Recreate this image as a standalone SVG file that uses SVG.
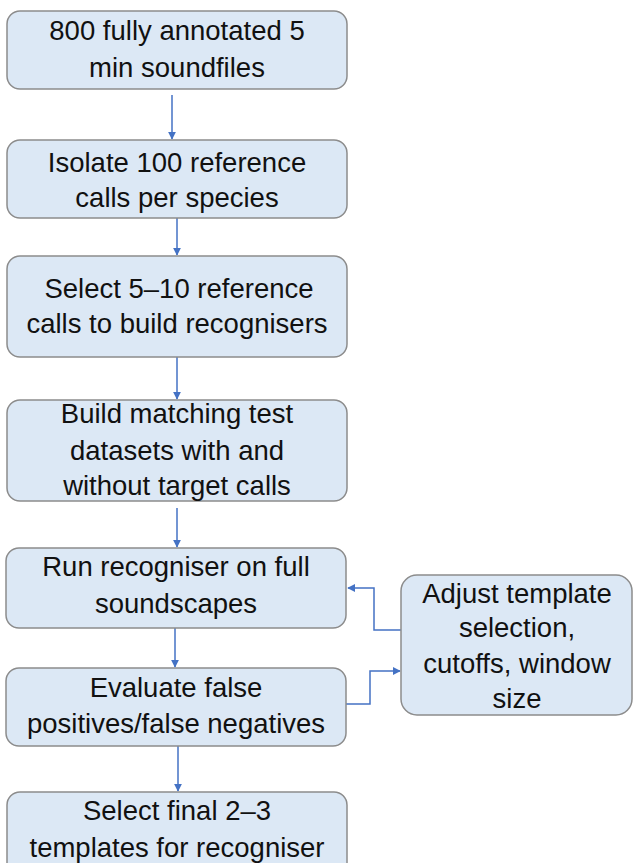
<svg xmlns="http://www.w3.org/2000/svg" width="635" height="863" viewBox="0 0 635 863">
  <style>
    .box { fill: #dce8f5; stroke: #8c8c8c; stroke-width: 1.5; }
    .lbl { font-family: "Liberation Sans", Arial, sans-serif; font-size: 27.5px; fill: #111; text-anchor: middle; }
    .conn { fill: none; stroke: #4472c4; stroke-width: 1.5; }
  </style>
  <defs>
    <marker id="arrow" viewBox="0 0 10 10" refX="9" refY="5" markerWidth="8" markerHeight="8" markerUnits="userSpaceOnUse" orient="auto">
      <path d="M0,0 L10,5 L0,10 z" fill="#4472c4"/>
    </marker>
  </defs>

  <rect width="635" height="863" fill="#ffffff"/>

  <g id="connectors">
    <line class="conn" x1="172" y1="95" x2="172" y2="139" marker-end="url(#arrow)"/>
    <line class="conn" x1="177" y1="218" x2="177" y2="255" marker-end="url(#arrow)"/>
    <line class="conn" x1="177" y1="357" x2="177" y2="399" marker-end="url(#arrow)"/>
    <line class="conn" x1="177" y1="508" x2="177" y2="547" marker-end="url(#arrow)"/>
    <line class="conn" x1="175" y1="628" x2="175" y2="667" marker-end="url(#arrow)"/>
    <line class="conn" x1="178" y1="745" x2="178" y2="791" marker-end="url(#arrow)"/>
    <polyline class="conn" points="401,630 374,630 374,588 348,588" marker-end="url(#arrow)"/>
    <polyline class="conn" points="346,704 370,704 370,671 400,671" marker-end="url(#arrow)"/>
  </g>

  <g id="soundfiles">
    <rect class="box" x="7" y="11" width="340" height="78" rx="13"/>
    <text class="lbl" x="177" y="40">800 fully annotated 5</text>
    <text class="lbl" x="177" y="77">min soundfiles</text>
  </g>

  <g id="isolate">
    <rect class="box" x="7" y="140" width="340" height="78" rx="13"/>
    <text class="lbl" x="177" y="172">Isolate 100 reference</text>
    <text class="lbl" x="177" y="207">calls per species</text>
  </g>

  <g id="select-reference">
    <rect class="box" x="7" y="256" width="340" height="101" rx="13"/>
    <text class="lbl" x="179" y="298">Select 5–10 reference</text>
    <text class="lbl" x="177" y="333">calls to build recognisers</text>
  </g>

  <g id="build-datasets">
    <rect class="box" x="7" y="400" width="340" height="101" rx="13"/>
    <text class="lbl" x="177" y="423">Build matching test</text>
    <text class="lbl" x="177" y="460">datasets with and</text>
    <text class="lbl" x="177" y="495">without target calls</text>
  </g>

  <g id="run-recogniser">
    <rect class="box" x="6" y="548" width="340" height="80" rx="13"/>
    <text class="lbl" x="176" y="576">Run recogniser on full</text>
    <text class="lbl" x="176" y="613">soundscapes</text>
  </g>

  <g id="evaluate">
    <rect class="box" x="6" y="668" width="340" height="78" rx="13"/>
    <text class="lbl" x="176" y="697">Evaluate false</text>
    <text class="lbl" x="176" y="733">positives/false negatives</text>
  </g>

  <g id="adjust">
    <rect class="box" x="401" y="575" width="231" height="140" rx="16"/>
    <text class="lbl" x="517" y="603">Adjust template</text>
    <text class="lbl" x="517" y="637">selection,</text>
    <text class="lbl" x="517" y="673">cutoffs, window</text>
    <text class="lbl" x="517" y="708">size</text>
  </g>

  <g id="select-final">
    <rect class="box" x="7" y="792" width="340" height="90" rx="13"/>
    <text class="lbl" x="177" y="820">Select final 2–3</text>
    <text class="lbl" x="177" y="857">templates for recogniser</text>
  </g>
</svg>
